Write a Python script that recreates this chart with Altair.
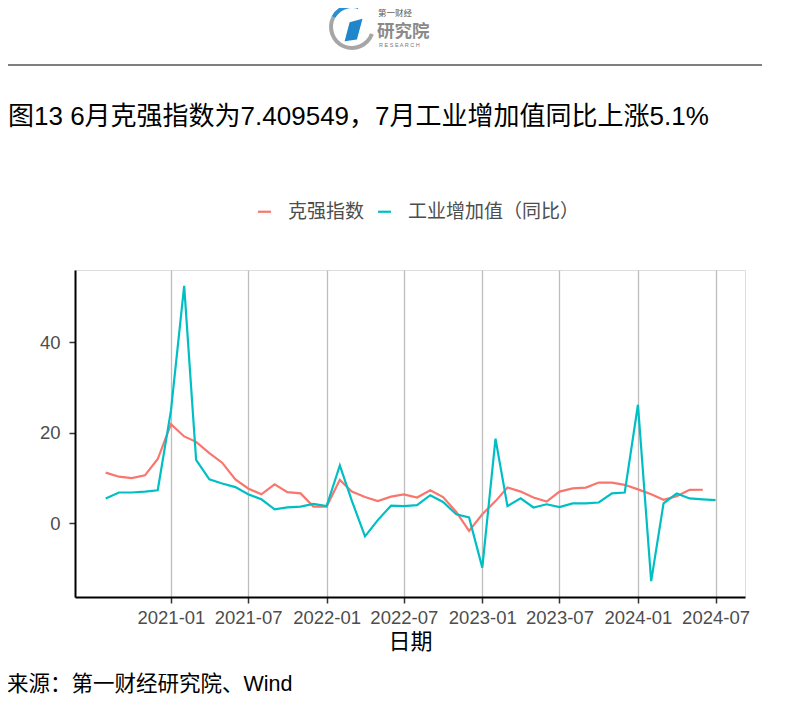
import altair as alt
import pandas as pd

FONT = "Liberation Sans, Arial, Noto Sans CJK SC, sans-serif"

title_text = "图13 6月克强指数为7.409549，7月工业增加值同比上涨5.1%"
source_text = "来源：第一财经研究院、Wind"
x_title = "日期"
series_names = ["克强指数", "工业增加值（同比）"]
series_colors = ["#F8766D", "#00BFC4"]

months_k = pd.date_range("2020-08-01", "2024-06-01", freq="MS").strftime("%Y/%m/%d").tolist()
months_i = pd.date_range("2020-08-01", "2024-07-01", freq="MS").strftime("%Y/%m/%d").tolist()

keqiang = [11.2, 10.3, 10.0, 10.6, 14.2,
           21.9, 19.2, 18.0, 15.5, 13.4, 9.7, 7.7, 6.4, 8.6, 6.9, 6.6, 3.7,
           3.7, 9.6, 7.0, 5.8, 4.9, 5.9, 6.4, 5.7, 7.3, 5.8, 2.5, -1.7,
           2.0, 4.9, 7.9, 7.0, 5.7, 4.8, 7.0, 7.7, 7.9, 9.0, 9.0, 8.5,
           7.5, 6.4, 5.2, 6.0, 7.4, 7.409549]
industry = [5.5, 6.8, 6.8, 7.0, 7.3,
            24.9, 52.5, 14.0, 9.7, 8.8, 8.0, 6.4, 5.3, 3.1, 3.5, 3.7, 4.3,
            3.8, 12.8, 5.0, -2.9, 0.7, 3.9, 3.8, 4.0, 6.2, 4.7, 2.0, 1.3,
            -9.8, 18.7, 3.8, 5.5, 3.5, 4.2, 3.6, 4.4, 4.4, 4.6, 6.6, 6.8,
            26.2, -12.8, 4.4, 6.6, 5.5, 5.3, 5.1]

tick_dates = [(2021, 1), (2021, 7), (2022, 1), (2022, 7), (2023, 1), (2023, 7), (2024, 1), (2024, 7)]

df = pd.concat([
    pd.DataFrame({"date": months_k, "value": keqiang, "series": series_names[0]}),
    pd.DataFrame({"date": months_i, "value": industry, "series": series_names[1]}),
])

OX, OY = 75, 270  # plot origin on page

lines = alt.Chart(df).mark_line(strokeWidth=2.2).encode(
    x=alt.X("date:T",
            scale=alt.Scale(domain=[alt.DateTime(year=2020, month=5, date=21),
                                    alt.DateTime(year=2024, month=9, date=8)]),
            axis=alt.Axis(values=[alt.DateTime(year=y, month=m, date=1) for y, m in tick_dates],
                          format="%Y-%m", title=x_title, grid=True, gridColor="#bdbdbd",
                          gridWidth=1.3, domainColor="black", domainWidth=2,
                          tickColor="#333333", tickSize=6, tickWidth=1.5,
                          labelColor="#4d4d4d", labelFontSize=18.5, labelFont=FONT,
                          labelPadding=5, titleFont=FONT, titleFontSize=22,
                          titleFontWeight="normal", titleColor="black", titlePadding=5)),
    y=alt.Y("value:Q",
            scale=alt.Scale(domain=[-16.3, 56], nice=False, zero=False),
            axis=alt.Axis(values=[0, 20, 40], grid=False, title=None, domainColor="black",
                          domainWidth=2, tickColor="#333333", tickSize=6, tickWidth=1.5,
                          labelColor="#4d4d4d", labelFontSize=18.5, labelFont=FONT,
                          labelPadding=9)),
    color=alt.Color("series:N",
                    scale=alt.Scale(domain=series_names, range=series_colors),
                    legend=alt.Legend(orient="none", legendX=180, legendY=-68,
                                      direction="horizontal", title=None,
                                      symbolType="stroke", symbolStrokeWidth=2.2,
                                      symbolSize=170, labelFontSize=19, labelFont=FONT,
                                      labelColor="#4d4d4d", labelOffset=14,
                                      columnPadding=8, labelLimit=300)),
)

one = pd.DataFrame({"t": [title_text]})
title = alt.Chart(one).mark_text(align="left", baseline="middle", fontSize=26,
                                 font=FONT, color="black").encode(
    x=alt.value(8 - OX), y=alt.value(117 - OY), text="t:N")

src = alt.Chart(pd.DataFrame({"t": [source_text]})).mark_text(
    align="left", baseline="middle", fontSize=21.5, font=FONT, color="black").encode(
    x=alt.value(7 - OX), y=alt.value(685 - OY), text="t:N")

hline = alt.Chart(one).mark_rule(color="black", strokeWidth=1).encode(
    x=alt.value(5 - OX), x2=alt.value(762 - OX), y=alt.value(65 - OY))

# logo
logo_arc_gray = alt.Chart(one).mark_arc(color="#a6a6a6", innerRadius=19, outerRadius=23,
                                        theta=1.9, theta2=5.2).encode(
    x=alt.value(352 - OX), y=alt.value(27 - OY))
logo_arc_blue = alt.Chart(one).mark_arc(color="#2a8fd0", innerRadius=19, outerRadius=23,
                                        theta=5.2, theta2=6.6).encode(
    x=alt.value(352 - OX), y=alt.value(27 - OY))
logo_shape = alt.Chart(one).mark_point(
    shape="M-0.3,-0.7 L0.85,-1 L0.35,0.85 L-0.75,1 Z", filled=True, color="#1f86cc",
    opacity=1, size=500).encode(x=alt.value(353 - OX), y=alt.value(30 - OY))
logo_t1 = alt.Chart(pd.DataFrame({"t": ["第一财经"]})).mark_text(
    align="left", baseline="middle", fontSize=8.5, font=FONT, color="#555555").encode(
    x=alt.value(378 - OX), y=alt.value(13 - OY), text="t:N")
logo_t2 = alt.Chart(pd.DataFrame({"t": ["研究院"]})).mark_text(
    align="left", baseline="middle", fontSize=17.5, font=FONT, color="#8a8a8a",
    fontWeight="bold").encode(x=alt.value(377 - OX), y=alt.value(31.5 - OY), text="t:N")
logo_t3 = alt.Chart(pd.DataFrame({"t": ["R E S E A R C H"]})).mark_text(
    align="left", baseline="middle", fontSize=5.5, font=FONT, color="#777777").encode(
    x=alt.value(379 - OX), y=alt.value(45 - OY), text="t:N")

chart = alt.layer(lines, title, src, hline, logo_arc_gray, logo_arc_blue, logo_shape,
                  logo_t1, logo_t2, logo_t3).properties(
    width=745 - OX, height=597 - OY,
    autosize=alt.AutoSizeParams(type="none"),
    padding={"left": OX - 8, "top": OY - 8, "right": 801 - 745, "bottom": 696 - 597},
).configure_view(stroke=None).configure(background="white")

chart.save("out.html", embed_options={"renderer": "svg", "actions": False})
